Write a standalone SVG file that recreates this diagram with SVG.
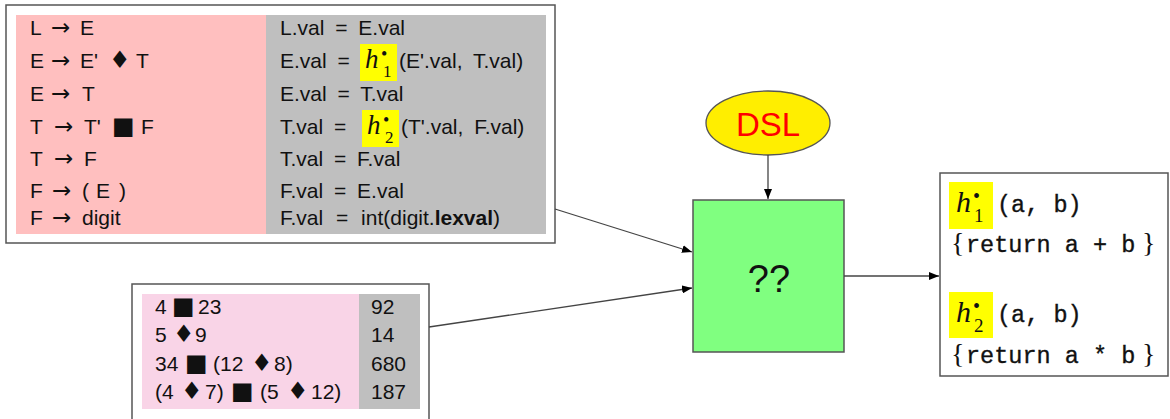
<svg xmlns="http://www.w3.org/2000/svg" width="1170" height="419" viewBox="0 0 1170 419">
  <defs>
    <marker id="arrow" viewBox="0 0 10 8" refX="10" refY="4" markerWidth="10" markerHeight="8" markerUnits="userSpaceOnUse" orient="auto">
      <path d="M0,0 L10,4 L0,8 z" fill="#000"/>
    </marker>
    <style>
      .frame { fill: #fff; stroke: #555; stroke-width: 1.5; }
      .sans { font-family: "Liberation Sans", "DejaVu Sans", sans-serif; font-size: 21px; fill: #111; }
      .arr { font-family: "DejaVu Sans", sans-serif; font-size: 23px; }
      .sq { font-family: "DejaVu Sans", sans-serif; font-size: 24px; }
      .dia { font-family: "DejaVu Sans", sans-serif; font-size: 24px; }
      .rhs { word-spacing: 5px; }
      .hl { fill: #ffff00; }
      .mathh { font-family: "Liberation Serif", serif; font-style: italic; fill: #111; }
      .mathn { font-family: "Liberation Serif", serif; fill: #111; }
      .mono { font-family: "Liberation Mono", monospace; font-size: 23.5px; fill: #111; stroke: #111; stroke-width: 0.35; }
      .brace { font-family: "Liberation Serif", serif; font-size: 28px; fill: #111; }
      .edge { stroke: #444; stroke-width: 1.3; fill: none; marker-end: url(#arrow); }
    </style>
  </defs>

  <!-- attribute grammar table -->
  <g id="grammar">
    <rect class="frame" x="6" y="5" width="549" height="238"/>
    <rect x="16" y="15" width="250" height="219" fill="#ffbfbf"/>
    <rect x="266" y="15" width="280" height="219" fill="#bfbfbf"/>
    <g class="sans">
      <text y="35"><tspan x="30">L</tspan><tspan class="arr" x="51">→</tspan><tspan x="80">E</tspan></text>
      <text y="68"><tspan x="30">E</tspan><tspan class="arr" x="51">→</tspan><tspan x="80">E'</tspan><tspan class="dia" x="109">♦</tspan><tspan x="136">T</tspan></text>
      <text y="101"><tspan x="30">E</tspan><tspan class="arr" x="51">→</tspan><tspan x="82">T</tspan></text>
      <text y="134"><tspan x="30">T</tspan><tspan class="arr" x="54">→</tspan><tspan x="84">T'</tspan><tspan class="sq" x="112">■</tspan><tspan x="141">F</tspan></text>
      <text y="166"><tspan x="30">T</tspan><tspan class="arr" x="54">→</tspan><tspan x="84">F</tspan></text>
      <text y="198"><tspan x="30">F</tspan><tspan class="arr" x="52">→</tspan><tspan x="82">(</tspan><tspan x="96">E</tspan><tspan x="119">)</tspan></text>
      <text y="225"><tspan x="30">F</tspan><tspan class="arr" x="52">→</tspan><tspan x="82">digit</tspan></text>
    </g>
    <g class="sans rhs">
      <text x="280" y="35">L.val = E.val</text>
      <text x="280" y="68">E.val =</text>
      <text x="399" y="68">(E'.val, T.val)</text>
      <text x="280" y="101">E.val = T.val</text>
      <text x="280" y="134">T.val =</text>
      <text x="401" y="134">(T'.val, F.val)</text>
      <text x="280" y="166">T.val = F.val</text>
      <text x="280" y="198">F.val = E.val</text>
      <text x="280" y="225" word-spacing="7">F.val = int(digit.<tspan font-weight="bold">lexval</tspan>)</text>
    </g>
    <rect class="hl" x="360" y="44" width="37" height="37"/>
    <text class="mathh" x="365" y="68" font-size="27">h</text>
    <text class="mathn" x="381" y="60" font-size="18">•</text>
    <text class="mathn" x="383" y="77" font-size="17">1</text>
    <rect class="hl" x="362" y="110" width="37" height="37"/>
    <text class="mathh" x="367" y="134" font-size="27">h</text>
    <text class="mathn" x="383" y="126" font-size="18">•</text>
    <text class="mathn" x="385" y="143" font-size="17">2</text>
  </g>

  <!-- example inputs and values -->
  <g id="examples">
    <rect class="frame" x="132" y="284" width="297" height="145"/>
    <rect x="142" y="294" width="217" height="115" fill="#f9d4e7"/>
    <rect x="359" y="294" width="61" height="115" fill="#bfbfbf"/>
    <g class="sans">
      <text y="314"><tspan x="155">4</tspan><tspan class="sq" x="172">■</tspan><tspan x="198">23</tspan></text>
      <text y="342"><tspan x="155">5</tspan><tspan class="dia" x="173">♦</tspan><tspan x="195">9</tspan></text>
      <text y="371"><tspan x="155">34</tspan><tspan class="sq" x="185">■</tspan><tspan x="213">(12</tspan><tspan class="dia" x="251">♦</tspan><tspan x="274">8)</tspan></text>
      <text y="399"><tspan x="155">(4</tspan><tspan class="dia" x="181">♦</tspan><tspan x="205">7)</tspan><tspan class="sq" x="231">■</tspan><tspan x="260">(5</tspan><tspan class="dia" x="287">♦</tspan><tspan x="311">12)</tspan></text>
      <text x="371" y="314">92</text>
      <text x="371" y="342">14</text>
      <text x="371" y="371">680</text>
      <text x="371" y="399">187</text>
    </g>
  </g>

  <!-- DSL input -->
  <g id="dsl">
    <ellipse cx="768" cy="123" rx="62" ry="32" fill="#ffee00" stroke="#555" stroke-width="1.3"/>
    <text x="768" y="136" text-anchor="middle" font-family="Liberation Sans, sans-serif" font-size="33" fill="#ff0000">DSL</text>
  </g>

  <!-- unknown synthesiser -->
  <g id="synth">
    <rect x="693" y="200" width="151" height="152" fill="#80ff80" stroke="#555" stroke-width="1.5"/>
    <text x="769" y="292" text-anchor="middle" font-family="Liberation Sans, sans-serif" font-size="38" fill="#111">??</text>
  </g>

  <!-- generated functions -->
  <g id="functions">
    <rect class="frame" x="940" y="173" width="228" height="203"/>
    <rect class="hl" x="949" y="182" width="44" height="47"/>
    <text class="mathh" x="956" y="212" font-size="30">h</text>
    <text class="mathn" x="973" y="203" font-size="20">•</text>
    <text class="mathn" x="974" y="222" font-size="19">1</text>
    <text class="mono" x="997" y="212">(a, b)</text>
    <text class="brace" x="951" y="252">{</text>
    <text class="mono" x="966" y="252">return a + b</text>
    <text class="brace" x="1142" y="252">}</text>

    <rect class="hl" x="949" y="292" width="44" height="46"/>
    <text class="mathh" x="956" y="322" font-size="30">h</text>
    <text class="mathn" x="973" y="313" font-size="20">•</text>
    <text class="mathn" x="974" y="332" font-size="19">2</text>
    <text class="mono" x="997" y="322">(a, b)</text>
    <text class="brace" x="951" y="363">{</text>
    <text class="mono" x="966" y="363">return a * b</text>
    <text class="brace" x="1142" y="363">}</text>
  </g>

  <!-- connectors -->
  <g id="connectors">
    <line class="edge" x1="555" y1="209" x2="692" y2="252"/>
    <line class="edge" x1="429" y1="327" x2="692" y2="288"/>
    <line class="edge" x1="768" y1="155" x2="768" y2="199"/>
    <line class="edge" x1="844" y1="276" x2="939" y2="276"/>
  </g>
</svg>
